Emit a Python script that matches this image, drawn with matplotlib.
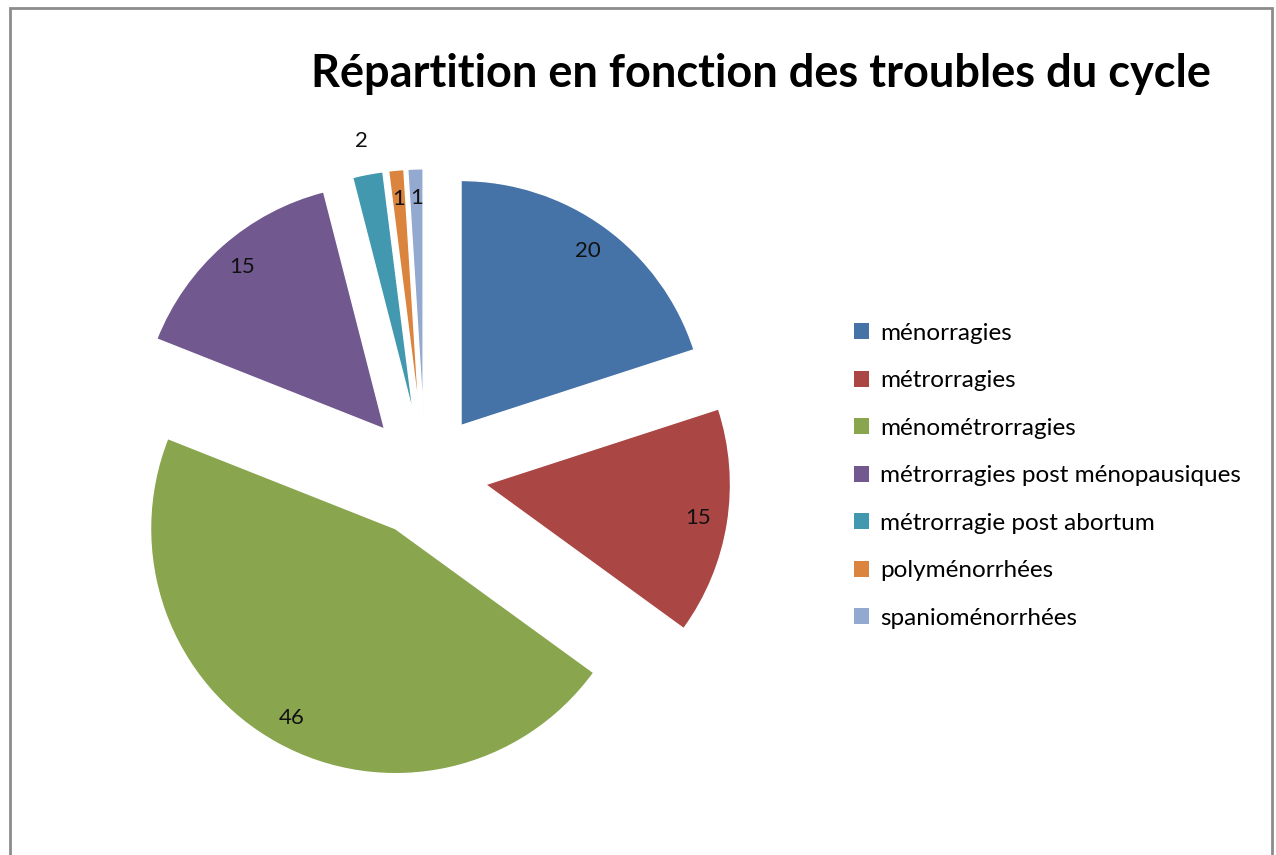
import matplotlib.pyplot as plt
from matplotlib.patches import Patch, Rectangle

# données du graphique
categories = ["ménorragies", "métrorragies", "ménométrorragies",
              "métrorragies post ménopausiques", "métrorragie post abortum",
              "polyménorrhées", "spanioménorrhées"]
valeurs = [20, 15, 46, 15, 2, 1, 1]
couleurs = ["#4572A7", "#AA4643", "#89A54E", "#71588F", "#4198AF", "#DB843D", "#93A9CF"]

plt.rcParams['font.family'] = ['Lato', 'DejaVu Sans']

fig = plt.figure(figsize=(12.76, 8.55), dpi=100)

# cadre gris autour du graphique
fig.patches.append(Rectangle((10 / 1276, -0.05), 1262 / 1276, 1.05 - 8 / 855,
                             transform=fig.transFigure, fill=False,
                             edgecolor="#8c8c8c", linewidth=2))

ax = fig.add_axes([0.0451, 0.0146, 0.576, 0.8596])
wedges, textes, autotextes = ax.pie(valeurs, colors=couleurs, startangle=90,
                                    counterclock=False, explode=[0.25] * len(valeurs),
                                    autopct="%d", pctdistance=0.88,
                                    wedgeprops=dict(linewidth=1, edgecolor="white"),
                                    textprops=dict(fontsize=16, color="#111111"))
for i, t in enumerate(autotextes):
    t.set_text(str(valeurs[i]))
# la petite part "2" a son étiquette à l'extérieur
x, y = autotextes[4].get_position()
autotextes[4].set_position((x * 1.08 / 0.88, y * 1.08 / 0.88))
ax.set_xlim(-1.5, 1.5)
ax.set_ylim(-1.5, 1.5)

fig.text(0.596, 0.914, "Répartition en fonction des troubles du cycle",
         fontsize=32.5, fontweight="bold", ha="center", va="center")

poignees = [Patch(facecolor=c) for c in couleurs]
fig.legend(poignees, categories, loc="upper left", bbox_to_anchor=(0.652, 0.648),
           frameon=False, fontsize=17.5, handlelength=0.62, handleheight=0.62,
           handletextpad=0.45, labelspacing=1.09)

fig.savefig("out.png", dpi=100)
